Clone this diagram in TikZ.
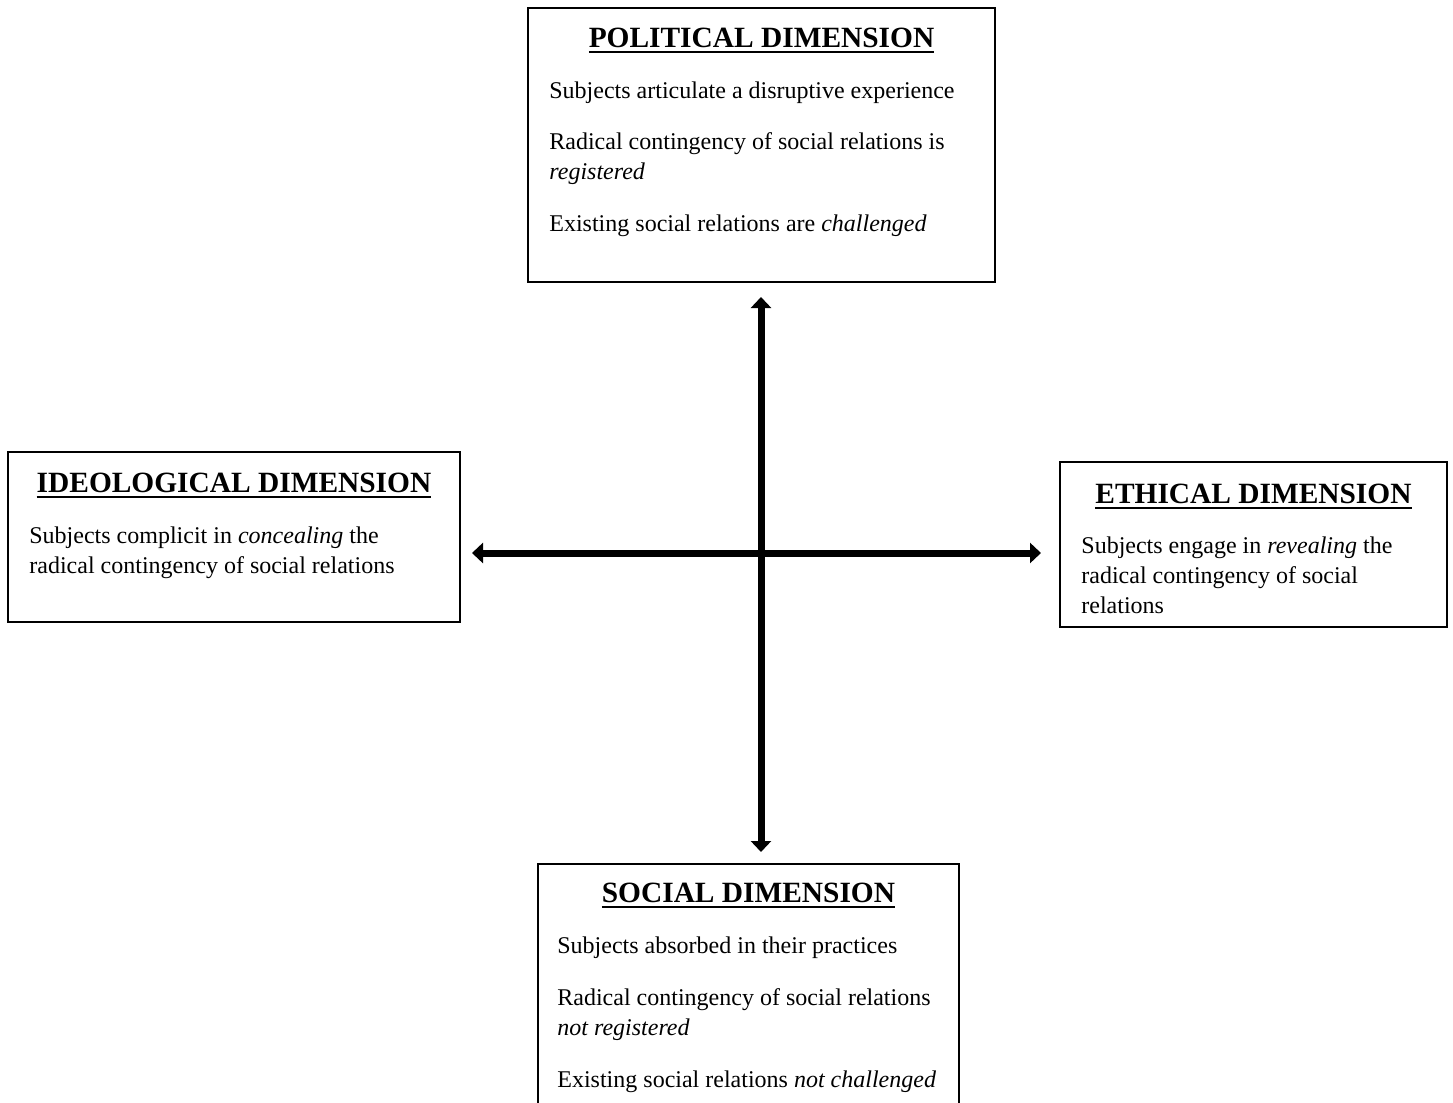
\documentclass[tikz,border=0pt]{standalone}
\usepackage{fontspec}
\setmainfont{Liberation Serif}
\usetikzlibrary{arrows.meta}
\newcommand\hul[1]{\setbox0=\hbox{#1}\rlap{\rule[-3pt]{\wd0}{1pt}}\box0}
\tikzset{
  box/.style={draw, line width=1pt, rectangle, inner sep=0pt},
  headtxt/.style={anchor=base, inner sep=0pt, font=\fontsize{14.7}{17}\selectfont\bfseries},
  bodytxt/.style={anchor=base west, inner sep=0pt, font=\fontsize{12}{14.4}\selectfont},
  axisline/.style={line width=3.5pt, {Triangle[length=5.5pt,width=10pt]}-{Triangle[length=5.5pt,width=10pt]}}
}
\begin{document}
\begin{tikzpicture}[x=0.5pt,y=-0.5pt]
\clip (0,0) rectangle (1453,1103);
\fill[white] (0,0) rectangle (1453,1103);
% boxes
\node[box, minimum width=233.5pt, minimum height=137pt] (pol) at (761.5,145) {};
\node[box, minimum width=226pt, minimum height=85pt] (ideo) at (234,537) {};
\node[box, minimum width=193.5pt, minimum height=82.5pt] (eth) at (1253.5,544.5) {};
\node[box, minimum width=210.5pt, minimum height=138pt] (soc) at (748.5,1002) {};
% political
\node[headtxt] (polh) at (761.5,47) {\hul{POLITICAL DIMENSION}};
\node[bodytxt] (pol1) at (549,98) {Subjects articulate a disruptive experience};
\node[bodytxt] (pol2) at (549,149) {Radical contingency of social relations is};
\node[bodytxt] (pol3) at (549,179) {\itshape registered};
\node[bodytxt] (pol4) at (549,231) {Existing social relations are \textit{challenged}};
% ideological
\node[headtxt] (ideoh) at (234,492) {\hul{IDEOLOGICAL DIMENSION}};
\node[bodytxt] (ideo1) at (29,543) {Subjects complicit in \textit{concealing} the};
\node[bodytxt] (ideo2) at (29,573) {radical contingency of social relations};
% ethical
\node[headtxt] (ethh) at (1253.5,503) {\hul{ETHICAL DIMENSION}};
\node[bodytxt] (eth1) at (1081,553) {Subjects engage in \textit{revealing} the};
\node[bodytxt] (eth2) at (1081,583) {radical contingency of social};
\node[bodytxt] (eth3) at (1081,613) {relations};
% social
\node[headtxt] (soch) at (748.5,902) {\hul{SOCIAL DIMENSION}};
\node[bodytxt] (soc1) at (557,953) {Subjects absorbed in their practices};
\node[bodytxt] (soc2) at (557,1005) {Radical contingency of social relations};
\node[bodytxt] (soc3) at (557,1035) {\itshape not registered};
\node[bodytxt] (soc4) at (557,1087) {Existing social relations \textit{not challenged}};
% axes
\coordinate (aL) at (472,553);
\coordinate (aR) at (1041,553);
\coordinate (aT) at (761,297);
\coordinate (aB) at (761,852);
\draw[axisline] (aL) -- (aR);
\draw[axisline] (aT) -- (aB);
\end{tikzpicture}
\end{document}
